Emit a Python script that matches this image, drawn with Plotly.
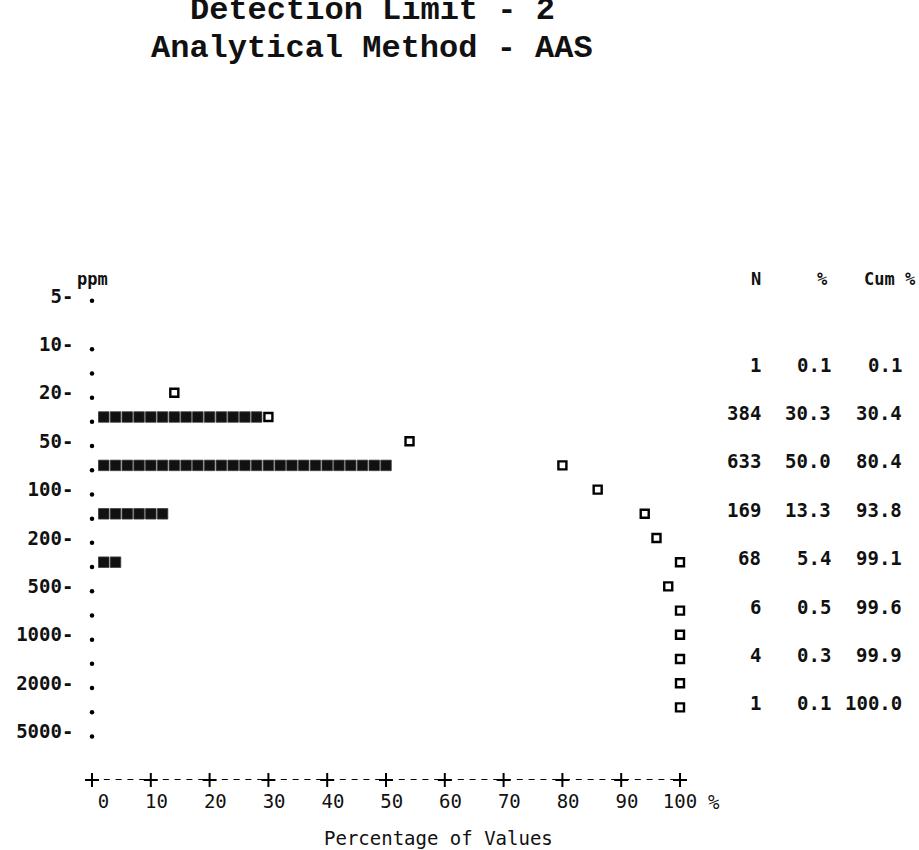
import math
import plotly.graph_objects as go

# ---------------- data ----------------
tick_rows = [0, 2, 4, 6, 8, 10, 12, 14, 16, 18]
tick_labels = ["5-", "10-", "20-", "50-", "100-", "200-", "500-", "1000-", "2000-", "5000-"]
dot_rows = [0, 2, 3, 4, 5, 6, 7, 8, 9, 10, 11, 12, 13, 14, 15, 16, 17, 18]

class_rows = [3, 5, 7, 9, 11, 13, 15, 17]
count_n = [1, 384, 633, 169, 68, 6, 4, 1]
pct = [0.1, 30.3, 50.0, 13.3, 5.4, 0.5, 0.3, 0.1]
cum_pct = [0.1, 30.4, 80.4, 93.8, 99.1, 99.6, 99.9, 100.0]

cum_marker_rows = [4, 5, 6, 7, 8, 9, 10, 11, 12, 13, 14, 15, 16, 17]
cum_marker_pct = [14, 30, 54, 80, 86, 94, 96, 100, 98, 100, 100, 100, 100, 100]

x_ticks = [0, 10, 20, 30, 40, 50, 60, 70, 80, 90, 100]
x_ticktext = ["0", "10", "20", "30", "40", "50", "60", "70", "80", "90", "100"]

title_lines = ["Detection Limit - 2", "Analytical Method - AAS"]

# ---------------- geometry ----------------
W, H = 919, 850
PX0, PX_PER = 92.0, 5.88          # pixel of 0 %, pixels per 1 %
XR = (-3, 103)
ROW0, ROW_PX = 296.0, 24.2        # pixel of row 0, pixels per row
YR = (20, -0.6)

def xpx(v):
    return PX0 + PX_PER * v

def ypx(r):
    return ROW0 + ROW_PX * r

xdom = [xpx(XR[0]) / W, xpx(XR[1]) / W]
ydom = [1 - ypx(YR[0]) / H, 1 - ypx(YR[1]) / H]

BODY = "DejaVu Sans Mono, Liberation Mono, monospace"
TITLE = "Courier New, Liberation Mono, monospace"
INK = "#111111"
NBSP = "\u00a0"

# line-printer style: labels right-aligned one column after the tick
max_len = max(len(t) for t in x_ticktext)
x_ticktext_padded = [NBSP * (max_len - len(t)) + t for t in x_ticktext]

fig = go.Figure()

# dots column
fig.add_trace(go.Scatter(
    x=[0] * len(dot_rows), y=[r + 0.2 for r in dot_rows], mode="markers",
    marker=dict(symbol="circle", size=4.5, color="black"),
    cliponaxis=False, hoverinfo="skip", showlegend=False))

# histogram "stars" (one character per 2 %)
marker_set = set(zip(cum_marker_rows, cum_marker_pct))
sx, sy = [], []
for r, p in zip(class_rows, pct):
    for k in range(1, int(math.floor(p / 2)) + 1):
        if (r, 2 * k) in marker_set:
            continue
        sx.append(2 * k)
        sy.append(r)
fig.add_trace(go.Scatter(
    x=sx, y=sy, mode="markers",
    marker=dict(symbol="square", size=10.5, color="#111111",
                line=dict(width=0.8, color="#3a3a3a")),
    cliponaxis=False, hoverinfo="skip", showlegend=False))

# cumulative markers
fig.add_trace(go.Scatter(
    x=cum_marker_pct, y=cum_marker_rows, mode="markers",
    marker=dict(symbol="square-open", size=8, color="black",
                line=dict(width=2.4, color="black")),
    cliponaxis=False, hoverinfo="skip", showlegend=False))

# ruler  +----+----+
ruler_row = YR[0]
fig.add_trace(go.Scatter(
    x=[x_ticks[0], x_ticks[-1]], y=[ruler_row, ruler_row], mode="lines",
    line=dict(color="black", width=2, dash="6px,5.8px"),
    cliponaxis=False, hoverinfo="skip", showlegend=False))
fig.add_trace(go.Scatter(
    x=x_ticks, y=[ruler_row] * len(x_ticks), mode="markers",
    marker=dict(symbol="cross-thin", size=10, line=dict(width=2, color="black")),
    cliponaxis=False, hoverinfo="skip", showlegend=False))

annotations = []
# title
for i, t in enumerate(title_lines):
    annotations.append(dict(
        text=t, xref="paper", yref="paper", x=372 / W, y=1 - (11 + 37 * i) / H,
        xanchor="center", yanchor="middle", showarrow=False,
        font=dict(family=TITLE, size=32, color=INK, weight="bold")))

# ppm label
annotations.append(dict(text="ppm", xref="paper", yref="paper", x=92 / W, y=1 - 279 / H,
                        xanchor="center", yanchor="middle", showarrow=False,
                        font=dict(family=BODY, size=17, color=INK, weight="bold")))
# table headers
for txt, xc in [("N", 756), ("%", 822), ("Cum %", 890)]:
    annotations.append(dict(text=txt, xref="paper", yref="paper", x=xc / W, y=1 - 279 / H,
                            xanchor="center", yanchor="middle", showarrow=False,
                            font=dict(family=BODY, size=17, color=INK, weight="bold")))
# table rows
for r, n, p, c in zip(class_rows, count_n, pct, cum_pct):
    for txt, xr in [(str(n), 763), (f"{p:.1f}", 833), (f"{c:.1f}", 904)]:
        annotations.append(dict(text=txt, xref="paper", yref="y", x=xr / W, y=r,
                                xanchor="right", yanchor="middle", yshift=4, showarrow=False,
                                font=dict(family=BODY, size=19, color=INK, weight="bold")))
# % after axis labels
annotations.append(dict(text="%", xref="paper", yref="paper", x=714 / W, y=1 - 802 / H,
                        xanchor="center", yanchor="middle", showarrow=False,
                        font=dict(family=BODY, size=19, color=INK)))
# x title
annotations.append(dict(text="Percentage of Values", xref="paper", yref="paper",
                        x=438 / W, y=1 - 838 / H, xanchor="center", yanchor="middle",
                        showarrow=False,
                        font=dict(family=BODY, size=19, color=INK)))

fig.update_layout(
    width=W, height=H, margin=dict(l=0, r=0, t=0, b=0),
    paper_bgcolor="white", plot_bgcolor="white",
    showlegend=False, annotations=annotations,
    xaxis=dict(domain=xdom, range=list(XR), showgrid=False, zeroline=False,
               showline=False, ticks="", tickvals=x_ticks, ticktext=x_ticktext_padded,
               ticklabelstandoff=8,
               tickfont=dict(family=BODY, size=19, color=INK)),
    yaxis=dict(domain=ydom, range=list(YR), showgrid=False, zeroline=False,
               showline=False, ticks="", tickvals=tick_rows, ticktext=tick_labels,
               ticklabelstandoff=0,
               tickfont=dict(family=BODY, size=19, color=INK, weight="bold")),
)

fig.write_html("out.html")
